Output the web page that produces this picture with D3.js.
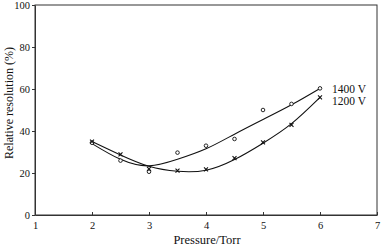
<!DOCTYPE html>
<html><head><meta charset="utf-8">
<script src="https://cdn.jsdelivr.net/npm/d3@7"></script>
<style>body{margin:0;background:#fff}svg{display:block}svg text{font-family:"Liberation Serif","Times New Roman","DejaVu Serif",serif !important;fill:#111}</style>
</head><body>
<script>
const pressure = [2, 2.5, 3, 3.5, 4, 4.5, 5, 5.5, 6];
const res1400 = [34.4, 25.9, 20.6, 29.7, 33, 36.2, 50, 52.9, 60.3];
const res1200 = [35, 28.9, 22, 21.1, 21.7, 27.1, 34.6, 42.9, 56];
const fit1400 = [34, 26.5, 23.4, 26.5, 31.5, 38.5, 45.5, 52.5, 60.3];
const fit1200 = [35, 28.6, 23.2, 20.8, 21.3, 26.4, 34.2, 43.5, 56];
const xTicks = [1, 2, 3, 4, 5, 6, 7];
const yTicks = [0, 20, 40, 60, 80, 100];
const seriesLabels = ["1400 V", "1200 V"];

const FONT = '"Liberation Serif","Times New Roman","DejaVu Serif",serif';
const W = 381, H = 247;
const svg = d3.select("body").append("svg").attr("width", W).attr("height", H);
const x = d3.scaleLinear().domain([1, 7]).range([35, 377]);
const y = d3.scaleLinear().domain([0, 100]).range([215, 5]);

svg.append("rect").attr("x", x(1)).attr("y", y(100)).attr("width", x(7) - x(1)).attr("height", y(0) - y(100))
  .attr("fill", "none").attr("stroke", "#333").attr("stroke-width", 1);

const xa = svg.append("g").attr("transform", `translate(0,${y(0)})`)
  .call(d3.axisBottom(x).tickValues(xTicks).tickFormat(d3.format("d")).tickSizeInner(-3).tickSizeOuter(0).tickPadding(7));
const ya = svg.append("g").attr("transform", `translate(${x(1)},0)`)
  .call(d3.axisLeft(y).tickValues(yTicks).tickFormat(d3.format("d")).tickSizeInner(3).tickSizeOuter(0).tickPadding(2));
[xa, ya].forEach(g => {
  g.attr("font-family", FONT).attr("font-size", 10.5);
  g.select(".domain").attr("stroke", "#333");
  g.selectAll(".tick line").attr("stroke", "#333");
  g.selectAll("text").attr("font-family", FONT).attr("fill", "#111");
});

svg.append("text").attr("x", 207).attr("y", 244).attr("text-anchor", "middle").attr("font-family", FONT).attr("font-size", 12.5).text("Pressure/Torr");
svg.append("text").attr("transform", "translate(13,103) rotate(-90)").attr("text-anchor", "middle").attr("font-family", FONT).attr("font-size", 12).text("Relative resolution (%)");

const line = d3.line().x((d, i) => x(pressure[i])).y(d => y(d)).curve(d3.curveNatural);
svg.append("path").attr("d", line(fit1400)).attr("fill", "none").attr("stroke", "#111").attr("stroke-width", 1.1);
svg.append("path").attr("d", line(fit1200)).attr("fill", "none").attr("stroke", "#111").attr("stroke-width", 1.1);

svg.selectAll(".c").data(res1400).enter().append("circle")
  .attr("cx", (d, i) => x(pressure[i])).attr("cy", d => y(d)).attr("r", 1.8)
  .attr("fill", "#fff").attr("stroke", "#111").attr("stroke-width", 0.9);
svg.selectAll(".m").data(res1200).enter().append("path")
  .attr("transform", (d, i) => `translate(${x(pressure[i])},${y(d)})`)
  .attr("d", d3.symbol().type(d3.symbolTimes).size(12))
  .attr("fill", "none").attr("stroke", "#111").attr("stroke-width", 1.1);

svg.append("text").attr("x", 332).attr("y", 93).attr("font-family", FONT).attr("font-size", 11.5).text(seriesLabels[0]);
svg.append("text").attr("x", 332).attr("y", 105).attr("font-family", FONT).attr("font-size", 11.5).text(seriesLabels[1]);
</script>
</body></html>
